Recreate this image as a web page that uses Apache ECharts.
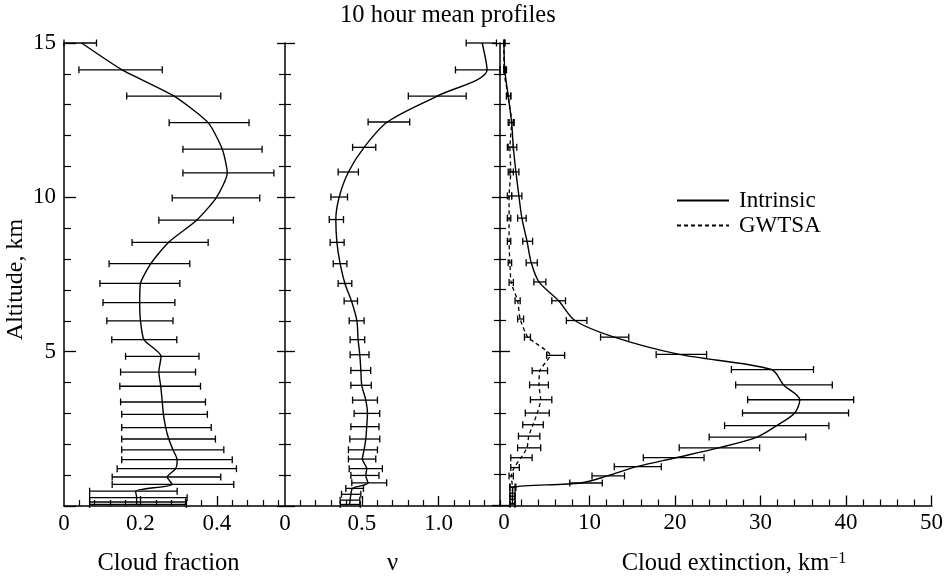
<!DOCTYPE html>
<html>
<head>
<meta charset="utf-8">
<script src="https://cdn.jsdelivr.net/npm/echarts@6/dist/echarts.min.js"></script>
<style>
  html, body { margin: 0; padding: 0; background: #fff; }
  #chart { width: 946px; height: 581px; }
</style>
</head>
<body>
<div id="chart"></div>
<script>
// --- cloud fraction panel ---
var fracAlt = [15.0, 14.13, 13.28, 12.42, 11.56, 10.79, 9.98, 9.26, 8.54, 7.85, 7.21, 6.59, 6.0, 5.39, 4.85, 4.34, 3.88, 3.37, 2.97, 2.54, 2.17, 1.82, 1.5, 1.21, 0.94, 0.70, 0.48, 0.27, 0.13, 0.05];
var fracMean = [0.046, 0.152, 0.288, 0.377, 0.414, 0.427, 0.398, 0.347, 0.273, 0.227, 0.2, 0.198, 0.2, 0.209, 0.254, 0.248, 0.253, 0.257, 0.26, 0.266, 0.274, 0.285, 0.296, 0.292, 0.27, 0.283, 0.187, 0.19, 0.19, 0.19];
var fracLo = [0.0, 0.039, 0.164, 0.275, 0.311, 0.311, 0.283, 0.248, 0.178, 0.118, 0.094, 0.102, 0.112, 0.125, 0.161, 0.148, 0.146, 0.148, 0.151, 0.151, 0.151, 0.151, 0.151, 0.139, 0.126, 0.126, 0.067, 0.067, 0.067, 0.067];
var fracHi = [0.085, 0.257, 0.41, 0.484, 0.518, 0.549, 0.512, 0.443, 0.377, 0.329, 0.303, 0.29, 0.285, 0.295, 0.353, 0.344, 0.357, 0.37, 0.375, 0.385, 0.396, 0.418, 0.44, 0.451, 0.41, 0.444, 0.296, 0.322, 0.318, 0.32];

// --- nu panel ---
var nuAlt = [15.0, 14.13, 13.28, 12.44, 11.62, 10.82, 10.01, 9.28, 8.54, 7.85, 7.21, 6.64, 6.0, 5.39, 4.9, 4.39, 3.91, 3.43, 3.0, 2.57, 2.17, 1.82, 1.52, 1.21, 0.99, 0.75, 0.57, 0.38, 0.19, 0.05];
var nuMean = [1.284, 1.316, 0.99, 0.667, 0.515, 0.413, 0.353, 0.331, 0.338, 0.359, 0.39, 0.433, 0.468, 0.476, 0.487, 0.494, 0.5, 0.526, 0.537, 0.532, 0.526, 0.515, 0.504, 0.532, 0.526, 0.541, 0.44, 0.429, 0.424, 0.42];
var nuLo = [1.18, 1.11, 0.803, 0.541, 0.44, 0.346, 0.299, 0.288, 0.294, 0.314, 0.346, 0.385, 0.418, 0.424, 0.424, 0.429, 0.429, 0.44, 0.45, 0.429, 0.422, 0.413, 0.413, 0.418, 0.429, 0.435, 0.396, 0.368, 0.359, 0.36];
var nuHi = [1.377, 1.40, 1.18, 0.812, 0.591, 0.478, 0.407, 0.381, 0.385, 0.403, 0.435, 0.472, 0.515, 0.519, 0.547, 0.558, 0.562, 0.602, 0.617, 0.612, 0.617, 0.602, 0.591, 0.634, 0.612, 0.662, 0.511, 0.494, 0.487, 0.49];

// --- extinction panel, intrinsic ---
var extAlt = [15.0, 14.13, 13.28, 12.42, 11.62, 10.82, 10.04, 9.32, 8.57, 7.87, 7.25, 6.64, 6.0, 5.46, 4.9, 4.41, 3.91, 3.43, 3.0, 2.59, 2.22, 1.87, 1.55, 1.26, 0.96, 0.73, 0.59, 0.4, 0.2, 0.05];
var extMean = [0.0, 0.1, 0.5, 0.9, 1.1, 1.4, 1.75, 2.1, 2.7, 3.2, 4.1, 6.4, 8.3, 12.9, 20.5, 31.3, 32.7, 34.6, 34.0, 31.9, 29.6, 25.1, 20.1, 15.5, 12.1, 9.0, 1.1, 1.0, 1.0, 1.0];
var extLo = [0.0, 0.0, 0.3, 0.5, 0.5, 0.7, 0.9, 1.6, 2.2, 2.6, 3.5, 5.6, 7.3, 11.3, 17.8, 26.6, 27.1, 28.5, 27.9, 25.8, 24.0, 20.5, 16.3, 12.9, 10.3, 7.7, 0.7, 0.7, 0.7, 0.7];
var extHi = [0.1, 0.3, 0.8, 1.1, 1.5, 1.75, 2.1, 2.6, 3.35, 3.9, 4.9, 7.2, 9.7, 14.6, 23.7, 36.2, 38.4, 40.9, 40.3, 38.0, 35.3, 29.9, 23.4, 18.4, 14.1, 11.5, 1.4, 1.3, 1.3, 1.3];

// --- extinction panel, GWTSA ---
var gwAlt = [15.0, 14.13, 13.28, 12.42, 11.62, 10.82, 10.04, 9.32, 8.57, 7.87, 7.23, 6.64, 6.05, 5.46, 4.87, 4.37, 3.91, 3.43, 3.0, 2.62, 2.25, 1.87, 1.55, 1.23, 0.96, 0.6, 0.3, 0.05];
var gwMean = [0.0, 0.0, 0.5, 0.9, 0.7, 0.8, 0.6, 0.6, 0.6, 0.7, 0.85, 1.6, 1.9, 2.8, 5.4, 4.2, 4.1, 4.3, 3.9, 3.4, 2.9, 2.7, 2.0, 1.2, 0.85, 1.0, 1.0, 1.0];
var gwLo = [0.0, 0.0, 0.3, 0.6, 0.4, 0.5, 0.4, 0.4, 0.4, 0.5, 0.6, 1.3, 1.6, 2.4, 5.0, 3.3, 3.0, 3.1, 2.5, 2.2, 1.7, 1.6, 0.8, 0.8, 0.6, 0.7, 0.7, 0.7];
var gwHi = [0.1, 0.2, 0.8, 1.2, 1.1, 1.1, 0.9, 0.8, 0.8, 0.9, 1.1, 1.9, 2.3, 3.1, 7.1, 5.1, 5.2, 5.6, 5.3, 4.6, 4.2, 4.3, 3.3, 1.8, 1.1, 1.3, 1.3, 1.3];

// tick labels
var fracLabels = [0, 0.2, 0.4];
var nuLabels = [0, 0.5, 1.0];
var extLabels = [0, 10, 20, 30, 40, 50];

var FONT = '"Liberation Serif", "DejaVu Serif", serif';
var dom = document.getElementById('chart');
var myChart = echarts.init(dom);

function steps(from, to, step, skip) {
    var out = [];
    for (var v = from; v <= to + 1e-9; v += step) {
        var r = Math.round(v * 1000) / 1000;
        if (skip.indexOf(r) < 0) out.push(r);
    }
    return out;
}

function pairs(xs, ys) {
    return xs.map(function (x, i) { return [x, ys[i]]; });
}
function bars(lo, hi, alt) {
    return alt.map(function (a, i) { return [lo[i], hi[i], a]; });
}

// horizontal error bar with end caps
function errRender(params, api) {
    var y = api.value(2);
    var p1 = api.coord([api.value(0), y]);
    var p2 = api.coord([api.value(1), y]);
    var h = 3.5;
    var st = {stroke: '#000', lineWidth: 1.3};
    return {
        type: 'group',
        children: [
            {type: 'line', shape: {x1: p1[0], y1: p1[1], x2: p2[0], y2: p2[1]}, style: st},
            {type: 'line', shape: {x1: p1[0], y1: p1[1] - h, x2: p1[0], y2: p1[1] + h}, style: st},
            {type: 'line', shape: {x1: p2[0], y1: p2[1] - h, x2: p2[0], y2: p2[1] + h}, style: st}
        ]
    };
}

function xMajor(g, min, max, labels, ticks, fmt, name, nameStyle) {
    return {
        gridIndex: g, type: 'value', min: min, max: max, position: 'bottom',
        axisLine: {show: true, onZero: false, lineStyle: {color: '#000', width: 1.5}},
        axisTick: {show: true, inside: true, length: 10, customValues: ticks, lineStyle: {color: '#000', width: 1.3}},
        axisLabel: {customValues: labels, formatter: fmt, color: '#000', fontFamily: FONT, fontSize: 23, margin: 6},
        splitLine: {show: false},
        name: name, nameLocation: 'middle', nameGap: 45,
        nameTextStyle: nameStyle
    };
}
function xMinor(g, min, max, ticks) {
    return {
        gridIndex: g, type: 'value', min: min, max: max, position: 'bottom',
        axisLine: {show: false, onZero: false},
        axisTick: {show: true, inside: true, length: 6, customValues: ticks, lineStyle: {color: '#000', width: 1.2}},
        axisLabel: {show: false},
        splitLine: {show: false}
    };
}
function yAx(g, inside, major, minor, showLine, showLabel) {
    return {
        gridIndex: g, type: 'value', min: 0, max: 15, interval: 5, position: 'left',
        axisLine: {show: showLine, onZero: false, lineStyle: {color: '#000', width: 1.5}},
        axisTick: {show: true, inside: inside, length: major, lineStyle: {color: '#000', width: 1.3}},
        minorTick: {show: true, splitNumber: 5, length: minor, lineStyle: {color: '#000', width: 1.2}},
        axisLabel: {show: showLabel, showMinLabel: false, color: '#000', fontFamily: FONT, fontSize: 23, margin: 8},
        splitLine: {show: false}
    };
}

var nameStyle = {color: '#000', fontFamily: FONT, fontSize: 24.5};

var yAxes = [
    yAx(0, true, 12, 7, true, true),
    yAx(1, true, 10, 6, true, false),
    yAx(1, false, 8, 6, false, false),
    yAx(2, true, 10, 6, true, false),
    yAx(2, false, 8, 6, false, false)
];
yAxes[0].name = 'Altitude, km';
yAxes[0].nameLocation = 'middle';
yAxes[0].nameGap = 36;
yAxes[0].nameTextStyle = {color: '#000', fontFamily: FONT, fontSize: 24, padding: [0, 10, 0, 0]};

var option = {
    animation: false,
    backgroundColor: '#fff',
    title: {
        text: '10 hour mean profiles', left: 340, top: 3, padding: 0,
        textStyle: {fontFamily: FONT, fontSize: 24.5, fontWeight: 'normal', color: '#000'}
    },
    legend: {
        orient: 'vertical', left: 676, top: 189, padding: 0, itemGap: 2,
        itemWidth: 52, itemHeight: 12,
        data: ['Intrinsic', 'GWTSA'],
        itemStyle: {opacity: 0},
        textStyle: {fontFamily: FONT, fontSize: 23, color: '#000', padding: [0, 0, 0, 5]}
    },
    grid: [
        {left: 64, top: 43, width: 221, height: 467},
        {left: 285, top: 43, width: 215, height: 467},
        {left: 500, top: 43, width: 442, height: 467}
    ],
    xAxis: [
        xMajor(0, 0, 0.578, fracLabels, [0.2, 0.4], function (v) { return v === 0 ? '0' : v.toFixed(1); }, 'Cloud fraction',
            {color: '#000', fontFamily: FONT, fontSize: 24.5, padding: [0, 12, 0, 0]}),
        xMinor(0, 0, 0.578, steps(0.04, 0.56, 0.04, [0.2, 0.4])),
        xMajor(1, 0, 1.4, nuLabels, [0.5, 1.0], function (v) { return v === 0 ? '0' : v.toFixed(1); }, 'ν', nameStyle),
        xMinor(1, 0, 1.4, steps(0.1, 1.4, 0.1, [0.5, 1.0])),
        xMajor(2, -0.46, 50.05, extLabels, [10, 20, 30, 40, 50], function (v) { return String(v); },
            'Cloud extinction, km{sup|−1}',
            {color: '#000', fontFamily: FONT, fontSize: 24.5, padding: [0, 0, 0, 36],
             rich: {sup: {fontFamily: FONT, fontSize: 16, color: '#000', verticalAlign: 'top', padding: [0, 0, 10, 0]}}}),
        xMinor(2, -0.46, 50.05, steps(2, 48, 2, [10, 20, 30, 40]))
    ],
    yAxis: yAxes,
    series: [
        {type: 'custom', xAxisIndex: 0, yAxisIndex: 0, renderItem: errRender, data: bars(fracLo, fracHi, fracAlt), encode: {x: [0, 1], y: 2}, silent: true},
        {type: 'line', xAxisIndex: 0, yAxisIndex: 0, data: pairs(fracMean, fracAlt), symbol: 'none', smooth: 0.2,
            itemStyle: {color: '#000'}, lineStyle: {color: '#000', width: 1.4}},
        {type: 'custom', xAxisIndex: 2, yAxisIndex: 1, renderItem: errRender, data: bars(nuLo, nuHi, nuAlt), encode: {x: [0, 1], y: 2}, silent: true},
        {type: 'line', xAxisIndex: 2, yAxisIndex: 1, data: pairs(nuMean, nuAlt), symbol: 'none', smooth: 0.3,
            itemStyle: {color: '#000'}, lineStyle: {color: '#000', width: 1.4}},
        {type: 'custom', xAxisIndex: 4, yAxisIndex: 3, renderItem: errRender, data: bars(extLo, extHi, extAlt), encode: {x: [0, 1], y: 2}, silent: true},
        {type: 'custom', xAxisIndex: 4, yAxisIndex: 3, renderItem: errRender, data: bars(gwLo, gwHi, gwAlt), encode: {x: [0, 1], y: 2}, silent: true},
        {name: 'Intrinsic', type: 'line', xAxisIndex: 4, yAxisIndex: 3, data: pairs(extMean, extAlt), symbol: 'none', smooth: 0.3,
            itemStyle: {color: '#000'}, lineStyle: {color: '#000', width: 1.4}},
        {name: 'GWTSA', type: 'line', xAxisIndex: 4, yAxisIndex: 3, data: pairs(gwMean, gwAlt), symbol: 'none', smooth: 0.2,
            itemStyle: {color: '#000'}, lineStyle: {color: '#000', width: 1.3, type: [4, 3]}}
    ]
};
myChart.setOption(option);
</script>
</body>
</html>
